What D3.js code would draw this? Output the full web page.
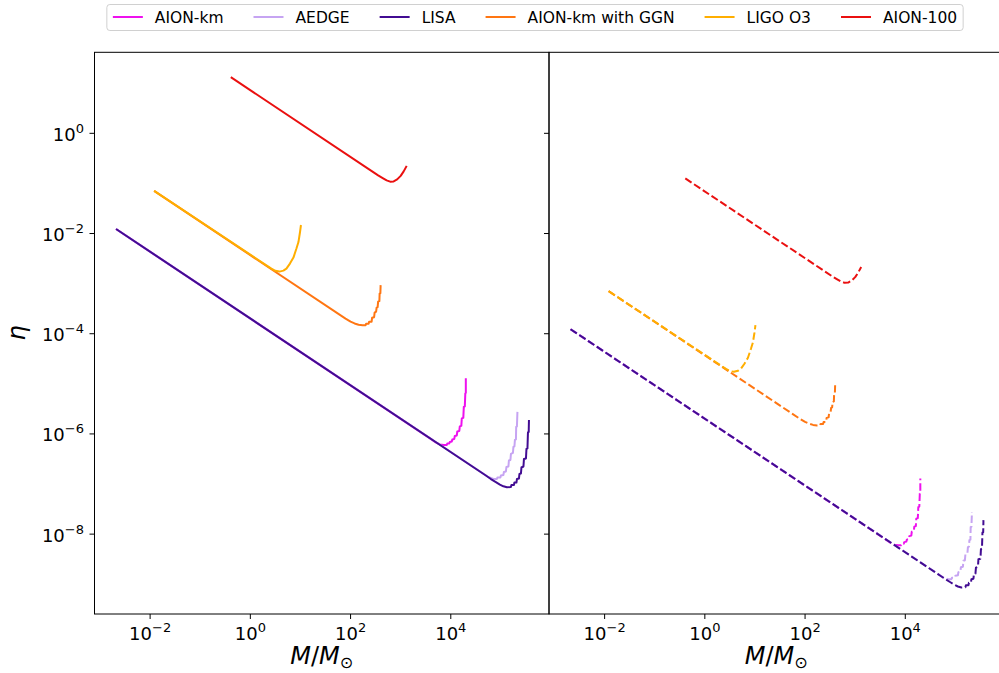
<!DOCTYPE html>
<html>
<head>
<meta charset="utf-8">
<script src="https://cdn.jsdelivr.net/npm/d3@7"></script>
<style>
  body { margin: 0; background: #fff; }
  svg { display: block; font-family: "DejaVu Sans", sans-serif; }
</style>
</head>
<body>
<div id="chart"></div>
<script>
// points are [log10(M/Msun), log10(eta)]
// left panel (solid)
const aionKmL = [[-2.68,-1.91],[3.6,-6.1],[3.7,-6.17],[3.78,-6.21],[3.86,-6.22],[3.92,-6.22],[3.93,-6.19],[3.97,-6.19],[3.98,-6.16],[4.02,-6.15],[4.03,-6.11],[4.07,-6.1],[4.08,-6.04],[4.12,-6.03],[4.13,-5.95],[4.17,-5.94],[4.18,-5.85],[4.21,-5.84],[4.22,-5.69],[4.25,-5.68],[4.26,-5.46],[4.28,-5.45],[4.29,-5.19],[4.3,-5.18],[4.3,-4.89]];
const aedgeL = [[-2.68,-1.91],[4.75,-6.86],[4.85,-6.9],[4.92,-6.9],[4.93,-6.87],[4.99,-6.87],[5.0,-6.83],[5.05,-6.82],[5.06,-6.76],[5.1,-6.75],[5.11,-6.66],[5.15,-6.65],[5.16,-6.53],[5.19,-6.52],[5.2,-6.4],[5.24,-6.38],[5.25,-6.26],[5.27,-6.25],[5.28,-6.12],[5.3,-6.11],[5.305,-5.86],[5.32,-5.85],[5.33,-5.56]];
const lisaL = [[-2.68,-1.91],[4.7,-6.83],[4.8,-6.9],[4.9,-6.96],[4.98,-7.01],[5.05,-7.045],[5.12,-7.065],[5.2,-7.06],[5.21,-7.02],[5.26,-7.02],[5.27,-6.97],[5.31,-6.97],[5.32,-6.9],[5.36,-6.89],[5.37,-6.8],[5.4,-6.79],[5.41,-6.67],[5.45,-6.65],[5.46,-6.5],[5.5,-6.49],[5.51,-6.3],[5.53,-6.29],[5.54,-5.97],[5.555,-5.96],[5.56,-5.72]];
const ggnL = [[-1.92,-1.15],[1.9,-3.7],[2.0,-3.76],[2.08,-3.795],[2.16,-3.82],[2.24,-3.83],[2.3,-3.83],[2.31,-3.8],[2.36,-3.8],[2.37,-3.76],[2.42,-3.76],[2.43,-3.68],[2.47,-3.67],[2.48,-3.58],[2.51,-3.56],[2.52,-3.48],[2.54,-3.47],[2.55,-3.36],[2.575,-3.35],[2.58,-3.2],[2.595,-3.19],[2.6,-3.03]];
const ligoL = [[-1.92,-1.15],[0.42,-2.7],[0.5,-2.745],[0.58,-2.76],[0.66,-2.74],[0.72,-2.7],[0.79,-2.6],[0.86,-2.48],[0.92,-2.3],[0.96,-2.17],[0.99,-1.98],[1.01,-1.83]];
const aion100L = [[-0.39,1.12],[2.55,-0.84],[2.65,-0.9],[2.72,-0.94],[2.79,-0.965],[2.86,-0.96],[2.93,-0.92],[3.0,-0.85],[3.06,-0.76],[3.12,-0.65]];

// right panel (dashed)
const aionKmR = [[-2.68,-3.91],[3.6,-8.1],[3.7,-8.17],[3.78,-8.21],[3.86,-8.22],[3.92,-8.22],[3.93,-8.19],[3.97,-8.19],[3.98,-8.16],[4.02,-8.15],[4.03,-8.11],[4.07,-8.1],[4.08,-8.04],[4.12,-8.03],[4.13,-7.95],[4.17,-7.94],[4.18,-7.85],[4.21,-7.84],[4.22,-7.69],[4.25,-7.68],[4.26,-7.46],[4.28,-7.45],[4.29,-7.19],[4.3,-7.18],[4.3,-6.89]];
const aedgeR = [[-2.68,-3.91],[4.75,-8.86],[4.85,-8.9],[4.92,-8.9],[4.93,-8.87],[4.99,-8.87],[5.0,-8.83],[5.05,-8.82],[5.06,-8.76],[5.1,-8.75],[5.11,-8.66],[5.15,-8.65],[5.16,-8.53],[5.19,-8.52],[5.2,-8.4],[5.24,-8.38],[5.25,-8.26],[5.27,-8.25],[5.28,-8.12],[5.3,-8.11],[5.305,-7.86],[5.32,-7.85],[5.33,-7.56]];
const lisaR = [[-2.68,-3.91],[4.7,-8.83],[4.8,-8.9],[4.9,-8.96],[4.98,-9.01],[5.05,-9.045],[5.12,-9.065],[5.2,-9.06],[5.21,-9.02],[5.26,-9.02],[5.27,-8.97],[5.31,-8.97],[5.32,-8.9],[5.36,-8.89],[5.37,-8.8],[5.4,-8.79],[5.41,-8.67],[5.45,-8.65],[5.46,-8.5],[5.5,-8.49],[5.51,-8.3],[5.53,-8.29],[5.54,-7.97],[5.555,-7.96],[5.56,-7.72]];
const ggnR = [[-1.92,-3.15],[1.9,-5.7],[2.0,-5.76],[2.08,-5.795],[2.16,-5.82],[2.24,-5.83],[2.3,-5.83],[2.31,-5.8],[2.36,-5.8],[2.37,-5.76],[2.42,-5.76],[2.43,-5.68],[2.47,-5.67],[2.48,-5.58],[2.51,-5.56],[2.52,-5.48],[2.54,-5.47],[2.55,-5.36],[2.575,-5.35],[2.58,-5.2],[2.595,-5.19],[2.6,-5.03]];
const ligoR = [[-1.92,-3.15],[0.42,-4.7],[0.5,-4.745],[0.58,-4.76],[0.66,-4.74],[0.72,-4.7],[0.79,-4.6],[0.86,-4.48],[0.92,-4.3],[0.96,-4.17],[0.99,-3.98],[1.01,-3.83]];
const aion100R = [[-0.39,-0.9],[2.55,-2.86],[2.65,-2.92],[2.72,-2.96],[2.79,-2.985],[2.86,-2.98],[2.93,-2.94],[3.0,-2.87],[3.06,-2.78],[3.12,-2.67]];

const seriesNames = ['AION-km', 'AEDGE', 'LISA', 'AION-km with GGN', 'LIGO O3', 'AION-100'];
const seriesColors = ['#ee11ee', '#c6a4f2', '#420c92', '#ff7612', '#ffae00', '#ea1010'];
const leftCurves = [aionKmL, aedgeL, lisaL, ggnL, ligoL, aion100L];
const rightCurves = [aionKmR, aedgeR, lisaR, ggnR, ligoR, aion100R];

const xTicks = [1e-2, 1, 1e2, 1e4];
const yTicks = [1, 1e-2, 1e-4, 1e-6, 1e-8];

const W = 999, H = 673;
const plotTop = 52.3, plotBottom = 614;

const svg = d3.select('#chart').append('svg')
  .attr('width', W)
  .attr('height', H);
svg.append('rect').attr('width', W).attr('height', H).attr('fill', '#fff');

const y = d3.scaleLog()
  .domain([Math.pow(10, -9.594), Math.pow(10, 1.617)])
  .range([plotBottom, plotTop]);

const panels = [
  { x0: 94.5, x1: 549, curves: leftCurves, dash: null, yLabels: true },
  { x0: 549, x1: 1003.5, curves: rightCurves, dash: '7.5,3', yLabels: false }
];

function powLabel(text, v) {
  const e = Math.round(Math.log10(v));
  text.append('tspan').text('10');
  text.append('tspan')
    .attr('dy', -8)
    .style('font-size', '13px')
    .text(e < 0 ? '\u2212' + (-e) : e);
}

panels.forEach(p => {
  const x = d3.scaleLog()
    .domain([Math.pow(10, -3.11), Math.pow(10, 5.96)])
    .range([p.x0, p.x1]);
  const g = svg.append('g');

  const line = d3.line()
    .x(d => x(Math.pow(10, d[0])))
    .y(d => y(Math.pow(10, d[1])));

  p.curves.forEach((c, i) => {
    g.append('path')
      .datum(c)
      .attr('d', line)
      .attr('fill', 'none')
      .attr('stroke', seriesColors[i])
      .attr('stroke-width', 2)
      .attr('stroke-dasharray', p.dash)
      .attr('stroke-linejoin', 'round');
  });

  // frame
  g.append('rect')
    .attr('x', p.x0).attr('y', plotTop)
    .attr('width', p.x1 - p.x0).attr('height', plotBottom - plotTop)
    .attr('fill', 'none').attr('stroke', '#000').attr('stroke-width', 1);

  // x ticks
  xTicks.forEach(t => {
    const xp = x(t);
    g.append('line')
      .attr('x1', xp).attr('x2', xp)
      .attr('y1', plotBottom).attr('y2', plotBottom + 5)
      .attr('stroke', '#000');
    const txt = g.append('text')
      .attr('x', xp).attr('y', 640)
      .attr('text-anchor', 'middle')
      .style('font-size', '18px');
    powLabel(txt, t);
  });

  // y ticks
  yTicks.forEach(t => {
    const yp = y(t);
    g.append('line')
      .attr('x1', p.x0 - 5).attr('x2', p.x0)
      .attr('y1', yp).attr('y2', yp)
      .attr('stroke', '#000');
    if (p.yLabels) {
      const txt = g.append('text')
        .attr('x', 84).attr('y', yp + 7.5)
        .attr('text-anchor', 'end')
        .style('font-size', '18px');
      powLabel(txt, t);
    }
  });

  // x axis label
  const xl = g.append('text')
    .attr('x', (p.x0 + p.x1) / 2)
    .attr('y', 664)
    .attr('text-anchor', 'middle')
    .style('font-size', '24px');
  xl.append('tspan').style('font-style', 'italic').text('M');
  xl.append('tspan').text('/');
  xl.append('tspan').style('font-style', 'italic').text('M');
  xl.append('tspan').attr('dy', 4).style('font-size', '16px').text('\u2299');
});

// y axis label
svg.append('text')
  .attr('transform', 'translate(25,333) rotate(-90)')
  .attr('text-anchor', 'middle')
  .style('font-size', '24px')
  .style('font-style', 'italic')
  .text('\u03b7');

// legend
const legend = svg.append('g');
const frame = legend.append('rect');
let cx = 0;
seriesNames.forEach((name, i) => {
  legend.append('line')
    .attr('x1', cx).attr('x2', cx + 30)
    .attr('y1', 17).attr('y2', 17)
    .attr('stroke', seriesColors[i])
    .attr('stroke-width', 2);
  const t = legend.append('text')
    .attr('x', cx + 42).attr('y', 22.5)
    .style('font-size', '15.5px')
    .text(name);
  cx += 42 + t.node().getComputedTextLength() + 30;
});
const contentW = cx - 30;
const legendLeft = 535 - contentW / 2 - 6;
frame
  .attr('x', -6).attr('y', 4.5)
  .attr('width', contentW + 12).attr('height', 26)
  .attr('rx', 3)
  .attr('fill', '#fff').attr('fill-opacity', 0.8)
  .attr('stroke', '#d0d0d0').attr('stroke-width', 1);
legend.attr('transform', `translate(${legendLeft + 6},0)`);
</script>
</body>
</html>
